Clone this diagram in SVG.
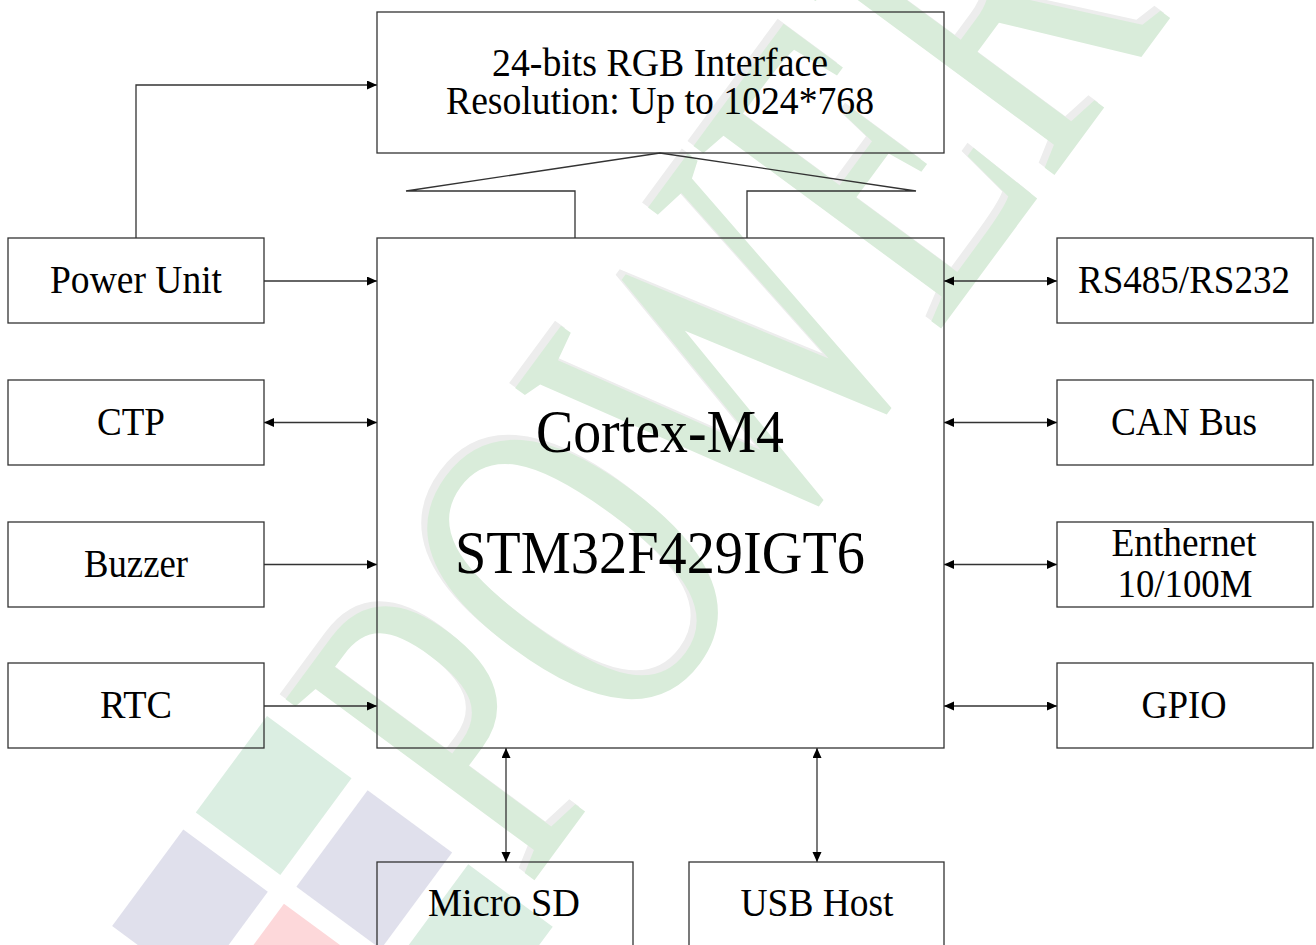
<svg xmlns="http://www.w3.org/2000/svg" width="1316" height="945" viewBox="0 0 1316 945">
<style>
.box{fill:none;stroke:#333;stroke-width:1.3}
.ln{fill:none;stroke:#333;stroke-width:1.3}
.t{font-family:"Liberation Serif","Times New Roman",serif;font-size:41px;fill:#000;text-anchor:middle}
.big{font-size:62px}
.wm{font-family:"Liberation Serif","Times New Roman",serif;font-size:470px}
</style>
<defs>
<marker id="ah" markerUnits="userSpaceOnUse" markerWidth="11" markerHeight="10" refX="10" refY="4.5" orient="auto-start-reverse">
<path d="M0,0 L10,4.5 L0,9 z" fill="#000"/>
</marker>
</defs>
<rect width="1316" height="945" fill="#fff"/>
<g id="watermark">
<g transform="translate(267,716) rotate(36.4)">
<rect x="0" y="0" width="105" height="120" fill="#dbeee2"/>
<rect x="125" y="0" width="105" height="120" fill="#e0e0ec"/>
<rect x="250" y="0" width="105" height="120" fill="#dbeee2"/>
<rect x="0" y="141" width="105" height="120" fill="#e0e0ec"/>
<rect x="125" y="141" width="105" height="120" fill="#fdd8da"/>
</g>
<text class="wm" transform="translate(522,884) rotate(-53.6)" fill="#ededed" textLength="1528" lengthAdjust="spacingAndGlyphs">POWERTIP</text>
<text class="wm" transform="translate(528,889) rotate(-53.6)" fill="#d9ecda" textLength="1528" lengthAdjust="spacingAndGlyphs">POWERTIP</text>
</g>
<g id="connectors">
<path class="ln" d="M264,281 H377" marker-end="url(#ah)"/>
<path class="ln" d="M264,422.5 H377" marker-start="url(#ah)" marker-end="url(#ah)"/>
<path class="ln" d="M264,564.5 H377" marker-end="url(#ah)"/>
<path class="ln" d="M264,706 H377" marker-end="url(#ah)"/>
<path class="ln" d="M944,281 H1057" marker-start="url(#ah)" marker-end="url(#ah)"/>
<path class="ln" d="M944,422.5 H1057" marker-start="url(#ah)" marker-end="url(#ah)"/>
<path class="ln" d="M944,564.5 H1057" marker-start="url(#ah)" marker-end="url(#ah)"/>
<path class="ln" d="M944,706 H1057" marker-start="url(#ah)" marker-end="url(#ah)"/>
<path class="ln" d="M506,748 V862" marker-start="url(#ah)" marker-end="url(#ah)"/>
<path class="ln" d="M817,748 V862" marker-start="url(#ah)" marker-end="url(#ah)"/>
<path class="ln" d="M136,238 V85 H377" marker-end="url(#ah)"/>
<path class="ln" d="M575,238 V191 H406 L660,153 L916,191 H747 V238" stroke-width="1"/>
</g>
<g id="rgb">
<rect class="box" x="377" y="12" width="567" height="141"/>
<text class="t" x="660" y="76" textLength="336" lengthAdjust="spacingAndGlyphs">24-bits RGB Interface</text>
<text class="t" x="660" y="114" textLength="428" lengthAdjust="spacingAndGlyphs">Resolution: Up to 1024*768</text>
</g>
<g id="mcu">
<rect class="box" x="377" y="238" width="567" height="510"/>
<text class="t big" x="660" y="452" textLength="248" lengthAdjust="spacingAndGlyphs">Cortex-M4</text>
<text class="t big" x="660" y="573" textLength="410" lengthAdjust="spacingAndGlyphs">STM32F429IGT6</text>
</g>
<g id="power">
<rect class="box" x="8" y="238" width="256" height="85"/>
<text class="t" x="136" y="293" textLength="172" lengthAdjust="spacingAndGlyphs">Power Unit</text>
</g>
<g id="ctp">
<rect class="box" x="8" y="380" width="256" height="85"/>
<text class="t" x="131" y="435" textLength="68" lengthAdjust="spacingAndGlyphs">CTP</text>
</g>
<g id="buzzer">
<rect class="box" x="8" y="522" width="256" height="85"/>
<text class="t" x="136" y="577" textLength="104" lengthAdjust="spacingAndGlyphs">Buzzer</text>
</g>
<g id="rtc">
<rect class="box" x="8" y="663" width="256" height="85"/>
<text class="t" x="136" y="718" textLength="72" lengthAdjust="spacingAndGlyphs">RTC</text>
</g>
<g id="rs485">
<rect class="box" x="1057" y="238" width="256" height="85"/>
<text class="t" x="1184" y="293" textLength="212" lengthAdjust="spacingAndGlyphs">RS485/RS232</text>
</g>
<g id="can">
<rect class="box" x="1057" y="380" width="256" height="85"/>
<text class="t" x="1184" y="435" textLength="146" lengthAdjust="spacingAndGlyphs">CAN Bus</text>
</g>
<g id="ethernet">
<rect class="box" x="1057" y="522" width="256" height="85"/>
<text class="t" x="1184" y="556" textLength="145" lengthAdjust="spacingAndGlyphs">Enthernet</text>
<text class="t" x="1185" y="597" textLength="135" lengthAdjust="spacingAndGlyphs">10/100M</text>
</g>
<g id="gpio">
<rect class="box" x="1057" y="663" width="256" height="85"/>
<text class="t" x="1184" y="718" textLength="85" lengthAdjust="spacingAndGlyphs">GPIO</text>
</g>
<g id="microsd">
<rect class="box" x="377" y="862" width="256" height="100"/>
<text class="t" x="504" y="916" textLength="152" lengthAdjust="spacingAndGlyphs">Micro SD</text>
</g>
<g id="usb">
<rect class="box" x="689" y="862" width="255" height="100"/>
<text class="t" x="817" y="916" textLength="153" lengthAdjust="spacingAndGlyphs">USB Host</text>
</g>
</svg>
